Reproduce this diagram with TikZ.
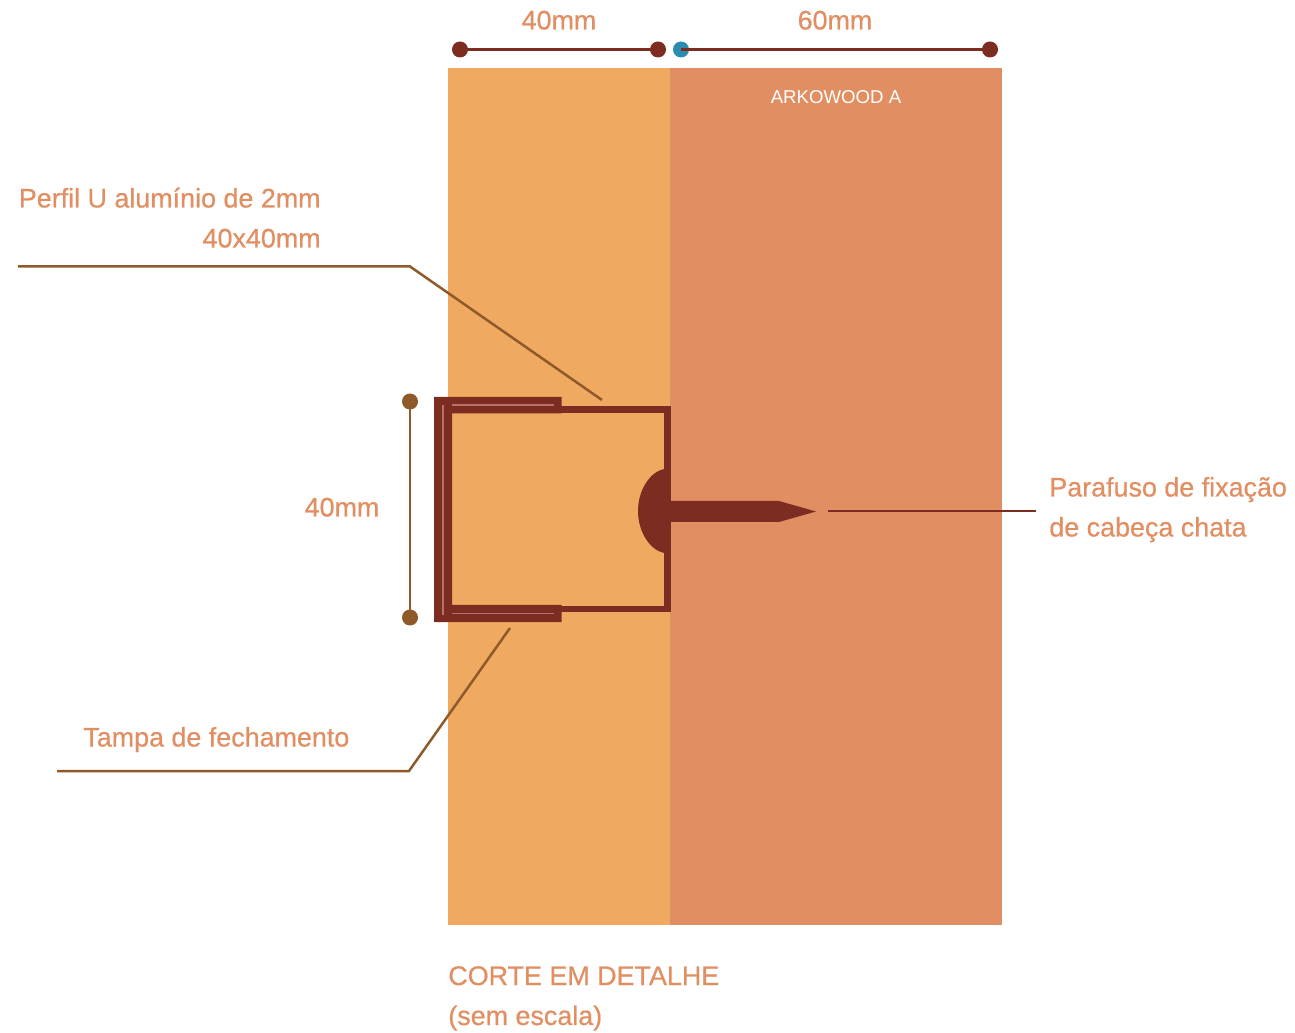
\documentclass[tikz,border=0pt]{standalone}
\usepackage{fontspec}
\setmainfont[FakeBold=0.6]{Liberation Sans}
\newfontfamily\arkfont{Liberation Sans}
\definecolor{madeiraA}{HTML}{EFA961}
\definecolor{madeiraB}{HTML}{E18F62}
\definecolor{perfil}{HTML}{7C2C20}
\definecolor{cota}{HTML}{8F5A2A}
\definecolor{azul}{HTML}{2B8DAD}
\definecolor{brilho}{HTML}{B5726A}
\tikzset{
  rotulo/.style={text=madeiraB,font=\fontsize{15.3pt}{15.3pt}\selectfont,inner sep=0pt},
  ponto/.style={circle,fill=#1,minimum size=0.32cm,inner sep=0pt},
  linha/.style={cota,line width=0.05cm},
  cotaline/.style={perfil,line width=0.05cm}
}
\begin{document}
\begin{tikzpicture}[x=0.02cm,y=-0.02cm]
\useasboundingbox (0,0) rectangle (1295,1033);
% madeira
\fill[madeiraA] (448,68) rectangle (670,925);
\fill[madeiraB] (670,68) rectangle (1002,925);
% cotas de cima
\node[ponto=perfil] (c1) at (460,49.5) {};
\node[ponto=perfil] (c2) at (658,49.5) {};
\node[ponto=azul] (c3) at (681,49.5) {};
\node[ponto=perfil] (c4) at (990,49.5) {};
\draw[cotaline] (c1.center) -- (c2.center);
\draw[cotaline] (c3.center) -- (c4.center);
\node[rotulo,anchor=base] (t40) at (559,29.5) {40mm};
\node[rotulo,anchor=base] (t60) at (835,29.5) {60mm};
\node[text=white,font=\fontsize{10.6pt}{10.6pt}\selectfont\arkfont,inner sep=0pt,anchor=base] (tark) at (836,104) {ARKOWOOD A};
% cota lateral
\node[ponto=cota] (c5) at (410,401.5) {};
\node[ponto=cota] (c6) at (410,617.5) {};
\draw[linha] (c5.center) -- (c6.center);
\node[rotulo,anchor=base] (t40b) at (342,516.5) {40mm};
% perfil U
\draw[perfil,line width=0.14cm] (555,410) -- (667,410) -- (667,609) -- (555,609);
\fill[perfil] (434,397) -- (561.5,397) -- (561.5,413.5) -- (452,413.5) -- (452,605) -- (561.5,605) -- (561.5,622) -- (434,622) -- cycle;
\draw[brilho,line width=0.03cm] (443,405) -- (443,615);
\draw[brilho,line width=0.03cm] (452,405) -- (554,405);
\draw[brilho,line width=0.03cm] (452,613.5) -- (554,613.5);
% parafuso
\fill[perfil] (664,469) .. controls (650,472) and (638,490) .. (638,511) .. controls (638,532) and (650,550) .. (664,553) -- cycle;
\fill[perfil] (670,501) -- (779,501) -- (816,511.5) -- (779,522) -- (670,522) -- cycle;
% chamadas
\coordinate (p1) at (18,266.5);
\coordinate (p2) at (410,266.5);
\coordinate (p3) at (602,400);
\draw[linha] (p1) -- (p2) -- (p3);
\coordinate (q1) at (57,771);
\coordinate (q2) at (409,771);
\coordinate (q3) at (510,628);
\draw[linha] (q1) -- (q2) -- (q3);
\coordinate (r1) at (828,511);
\coordinate (r2) at (1036,511);
\draw[cotaline] (r1) -- (r2);
% textos
\node[rotulo,anchor=base east] (t1) at (321,207.5) {Perfil U alumínio de 2mm};
\node[rotulo,anchor=base east] (t2) at (321,247.5) {40x40mm};
\node[rotulo,anchor=base west] (t3) at (83,746.5) {Tampa de fechamento};
\node[rotulo,anchor=base west] (t4) at (1049,496.5) {Parafuso de fixação};
\node[rotulo,anchor=base west] (t5) at (1049,536.5) {de cabeça chata};
\node[rotulo,anchor=base west] (t6) at (448,985) {CORTE EM DETALHE};
\node[rotulo,anchor=base west] (t7) at (448,1025) {(sem escala)};
\end{tikzpicture}
\end{document}
